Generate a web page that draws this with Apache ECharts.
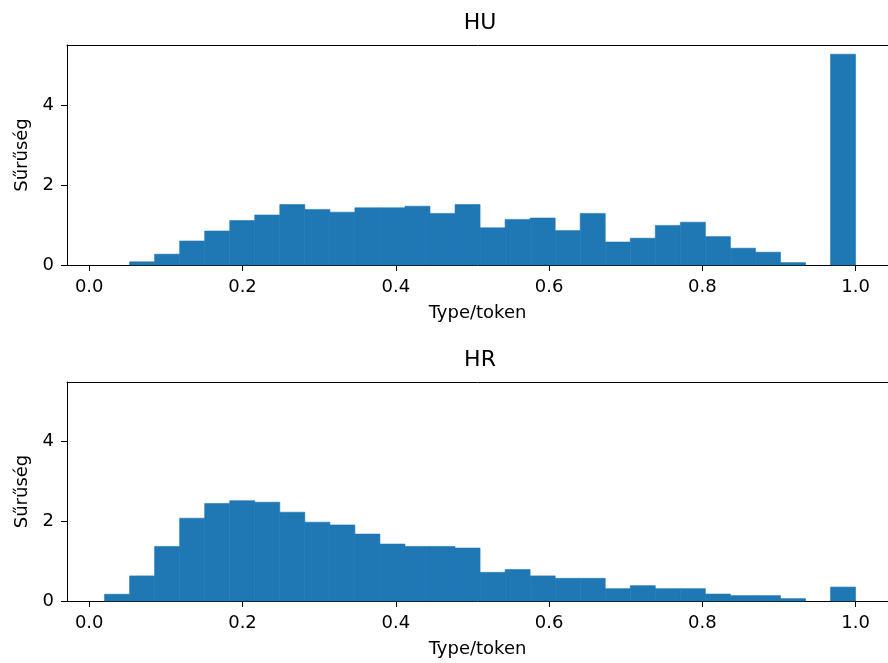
<!DOCTYPE html>
<html>
<head>
<meta charset="utf-8">
<script src="https://cdn.jsdelivr.net/npm/echarts@6/dist/echarts.min.js"></script>
<style>
  html, body { margin: 0; padding: 0; background: #fff; }
  #chart { width: 888px; height: 663px; }
</style>
</head>
<body>
<div id="chart"></div>
<script>
// hisztogram: 30 bin, kozos bin hatarok a ket panelen
const binLo = 0.02;
const binHi = 1.0;
const binCount = 30;

// suruseg ertekek binenkent (leolvasva)
const huDensity = [0, 0.08, 0.27, 0.60, 0.85, 1.11, 1.25, 1.51, 1.39, 1.32,
                   1.43, 1.43, 1.47, 1.29, 1.51, 0.93, 1.14, 1.175, 0.86, 1.29,
                   0.575, 0.67, 0.99, 1.07, 0.71, 0.42, 0.32, 0.06, 0, 5.27];
const hrDensity = [0.17, 0.63, 1.37, 2.08, 2.45, 2.52, 2.48, 2.23, 1.98, 1.91,
                   1.68, 1.43, 1.37, 1.37, 1.33, 0.72, 0.79, 0.63, 0.57, 0.57,
                   0.31, 0.385, 0.31, 0.31, 0.175, 0.135, 0.135, 0.06, 0, 0.35];

const panelTitles = ['HU', 'HR'];
const xTicks = [0, 0.2, 0.4, 0.6, 0.8, 1.0];
const yTicks = [0, 2, 4];
const xName = 'Type/token';
const yName = 'Sűrűség';

const FONT = 'DejaVu Sans';
const BLUE = '#1f77b4';
// a jobb szel kilog a kepbol, ezert a latszo tartomany
const X_MIN = -0.029;
const X_MAX = 1.0423;

// bin hatarok -> [x0, x1, h]
function toBins(values) {
    const w = (binHi - binLo) / binCount;
    return values.map((h, i) => [binLo + i * w, binLo + (i + 1) * w, h]);
}

function renderBar(params, api) {
    if (!(api.value(2) > 0)) return null;
    const p0 = api.coord([api.value(0), api.value(2)]);
    const p1 = api.coord([api.value(1), 0]);
    return {
        type: 'rect',
        shape: { x: p0[0], y: p0[1], width: p1[0] - p0[0], height: p1[1] - p0[1] },
        style: { fill: BLUE, stroke: BLUE, lineWidth: 0.6 }
    };
}

const grids = [
    { left: 67, top: 45, right: 0, height: 220 },
    { left: 67, top: 382, right: 0, height: 219 }
];

const bottomAxes = grids.map((g, i) => ({
    type: 'value',
    gridIndex: i,
    position: 'bottom',
    min: X_MIN,
    max: X_MAX,
    name: xName,
    nameLocation: 'middle',
    nameGap: 39,
    nameTextStyle: { fontFamily: FONT, fontSize: 18, color: '#000' },
    axisLine: { show: true, onZero: false, lineStyle: { color: '#000', width: 1 } },
    axisTick: { show: true, length: 6, customValues: xTicks, lineStyle: { color: '#000' } },
    axisLabel: {
        customValues: xTicks,
        margin: 13,
        fontFamily: FONT, fontSize: 18, color: '#000',
        formatter: v => v.toFixed(1)
    },
    splitLine: { show: false }
}));

// felso keretvonal
const topAxes = grids.map((g, i) => ({
    type: 'value',
    gridIndex: i,
    position: 'top',
    min: X_MIN,
    max: X_MAX,
    axisLine: { show: true, onZero: false, lineStyle: { color: '#000', width: 1 } },
    axisTick: { show: false },
    axisLabel: { show: false },
    splitLine: { show: false }
}));

const yAxes = grids.map((g, i) => ({
    type: 'value',
    gridIndex: i,
    min: 0,
    max: 5.5,
    name: yName,
    nameLocation: 'middle',
    nameGap: 30,
    nameTextStyle: { fontFamily: FONT, fontSize: 18, color: '#000' },
    axisLine: { show: true, onZero: false, lineStyle: { color: '#000', width: 1 } },
    axisTick: { show: true, length: 6, customValues: yTicks, lineStyle: { color: '#000' } },
    axisLabel: {
        customValues: yTicks,
        margin: 13,
        fontFamily: FONT, fontSize: 18, color: '#000'
    },
    splitLine: { show: false }
}));

const chart = echarts.init(document.getElementById('chart'));
chart.setOption({
    animation: false,
    backgroundColor: '#fff',
    title: panelTitles.map((t, i) => ({
        text: t,
        left: 480,
        top: i === 0 ? 12 : 349,
        textAlign: 'center',
        padding: 0,
        textStyle: { fontFamily: FONT, fontSize: 22, fontWeight: 'normal', color: '#000' }
    })),
    grid: grids,
    xAxis: bottomAxes.concat(topAxes),
    yAxis: yAxes,
    series: [
        { type: 'custom', xAxisIndex: 0, yAxisIndex: 0, renderItem: renderBar,
          encode: { x: [0, 1], y: 2 }, data: toBins(huDensity) },
        { type: 'custom', xAxisIndex: 1, yAxisIndex: 1, renderItem: renderBar,
          encode: { x: [0, 1], y: 2 }, data: toBins(hrDensity) }
    ]
});
</script>
</body>
</html>
